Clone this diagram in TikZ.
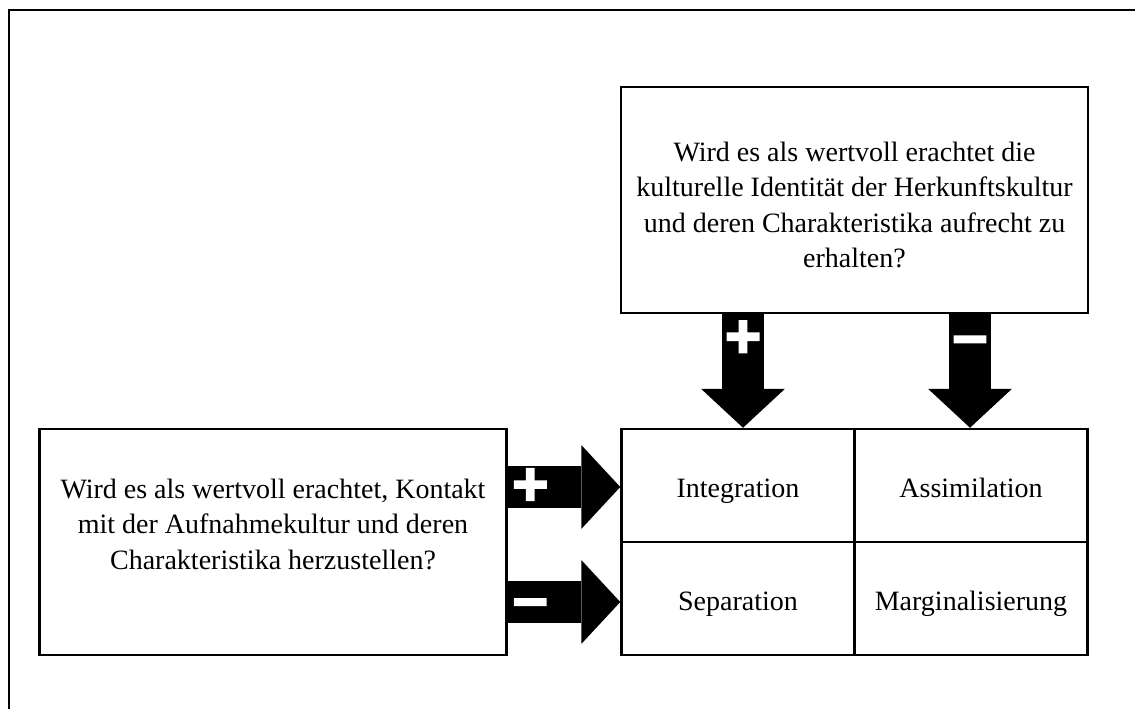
\documentclass[tikz,border=0pt]{standalone}
\usepackage{fontspec}
\setmainfont{Liberation Serif}
\newfontfamily\signfont{Liberation Sans Bold}[FakeBold=3]
\usetikzlibrary{arrows.meta}
\usetikzlibrary{positioning}
\usetikzlibrary{calc}

\begin{document}
\begin{tikzpicture}[x = 1pt, y = -1pt,
box/.style = {draw, line width=2.5pt, rectangle, inner sep=0pt},
question/.style = {box, minimum width=467, minimum height=226},
cell/.style = {box, minimum width=233, minimum height=113, txt, text height=29pt, text depth=6pt},
txt/.style = {font=\fontsize{28}{35.5}\selectfont, align=center},
block/.style = {line width=42pt, -{Triangle[width=84pt, length=39pt, line width=0pt]}},
sign/.style = {text=white, font=\signfont\fontsize{62}{62}\selectfont, inner sep=0pt},
minus/.style = {sign, yshift=-7pt}]
\def\rowshift{55};
\useasboundingbox (0,0) rectangle (1135,709);
\draw[line width=2.5pt] (9,10) rectangle (1160,740);

\node[question] (herkunft) at (854.5,200) {};
\node[txt] (herkunftText) at (854.5,205) {Wird es als wertvoll erachtet die\\kulturelle Identität der Herkunftskultur\\und deren Charakteristika aufrecht zu\\erhalten?};
\node[question] (kontakt) at (273,542) {};
\node[txt] (kontaktText) at (273,524) {Wird es als wertvoll erachtet, Kontakt\\mit der Aufnahmekultur und deren\\Charakteristika herzustellen?};

\node[cell] (integ) at (738,485.5) {Integration};
\node[cell] (assim) at (971,485.5) {Assimilation};
\node[cell] (separ) at (738,598.5) {Separation};
\node[cell] (margi) at (971,598.5) {Marginalisierung};

\coordinate (plusTop) at ([xshift=-111.5]herkunft.south);
\coordinate (minusTop) at ([xshift=115.5]herkunft.south);
\coordinate (plusLeft) at ([yshift=\rowshift]kontakt.east);
\coordinate (minusLeft) at ([yshift=-60]kontakt.east);

\draw[block] (plusTop) -- node[sign, pos=.22] (plusT) {+} (plusTop |- integ.north);
\draw[block] (minusTop) -- node[minus, pos=.22] (minusT) {–} (minusTop |- assim.north);
\draw[block] (plusLeft) -- node[sign, pos=.2] (plusL) {+} (plusLeft -| integ.west);
\draw[block] (minusLeft) -- node[minus, pos=.2] (minusL) {–} (minusLeft -| separ.west);

\end{tikzpicture}
\end{document}
